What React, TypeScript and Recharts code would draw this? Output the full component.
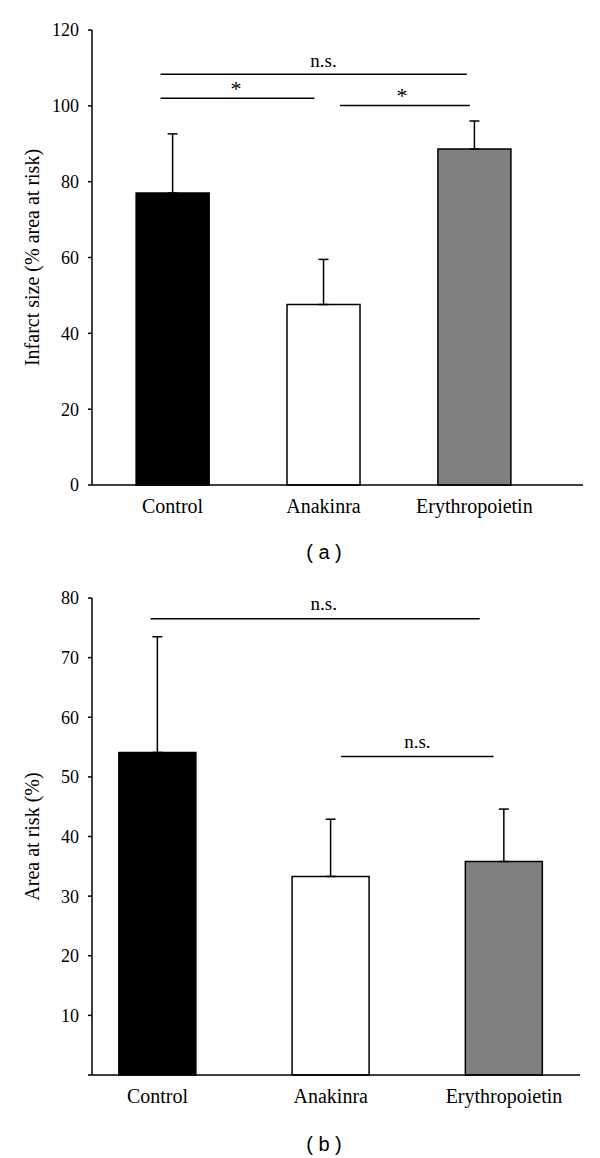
import {
  BarChart,
  Bar,
  Cell,
  XAxis,
  YAxis,
  ErrorBar,
  ReferenceLine,
  ReferenceDot,
} from "recharts";

const groups = ["Control", "Anakinra", "Erythropoietin"];
const fills = ["#000000", "#ffffff", "#808080"];

// panel (a): infarct size, % of area at risk
const infarctMean = [77.0, 47.6, 88.6];
const infarctErr = [15.6, 11.9, 7.4];
const infarctTicks = [0, 20, 40, 60, 80, 100, 120];

// panel (b): area at risk, %
const riskMean = [54.1, 33.3, 35.8];
const riskErr = [19.4, 9.6, 8.8];
const riskTicks = [0, 10, 20, 30, 40, 50, 60, 70, 80];

// significance bars, in data units (x = group index 1..3)
const bracketsA = [
  { x1: 0.92, x2: 2.95, y: 108.3 },
  { x1: 0.92, x2: 1.94, y: 102.0 },
  { x1: 2.11, x2: 2.97, y: 100.1 },
];
const marksA = [
  { x: 2.0, y: 112.1, text: "n.s." },
  { x: 1.42, y: 104.7, text: "*" },
  { x: 2.52, y: 102.9, text: "*" },
];
const bracketsB = [
  { x1: 0.96, x2: 2.86, y: 76.5 },
  { x1: 2.06, x2: 2.94, y: 53.4 },
];
const marksB = [
  { x: 1.96, y: 79.2, text: "n.s." },
  { x: 2.5, y: 55.9, text: "n.s." },
];

const serif = "'Liberation Serif', 'Times New Roman', serif";
const sans = "'Liberation Sans', Arial, sans-serif";

const build = (means: number[], errs: number[]) =>
  groups.map((g, i) => ({ x: i + 1, name: g, mean: means[i], err: [0, errs[i]] }));

type Bracket = { x1: number; x2: number; y: number };
type Mark = { x: number; y: number; text: string };

function Panel({
  means,
  errs,
  ticks,
  yLabel,
  brackets,
  marks,
  xDomain,
  barSize,
  top,
  height,
  marginTop,
  marginRight,
  hideZero,
}: {
  means: number[];
  errs: number[];
  ticks: number[];
  yLabel: string;
  brackets: Bracket[];
  marks: Mark[];
  xDomain: [number, number];
  barSize: number;
  top: number;
  height: number;
  marginTop: number;
  marginRight: number;
  hideZero?: boolean;
}) {
  const data = build(means, errs);
  return (
    <div style={{ position: "absolute", left: 0, top }}>
      <BarChart
        width={600}
        height={height}
        data={data}
        margin={{ top: marginTop, right: marginRight, left: 0, bottom: 0 }}
      >
        <XAxis
          type="number"
          dataKey="x"
          domain={xDomain}
          ticks={[1, 2, 3]}
          tickFormatter={(v) => groups[v - 1]}
          tickLine={false}
          tickSize={6}
          tickMargin={8}
          height={55}
          axisLine={{ stroke: "#000", strokeWidth: 1.5 }}
          tick={{ fill: "#000", fontSize: 20, fontFamily: serif }}
        />
        <YAxis
          type="number"
          domain={[ticks[0], ticks[ticks.length - 1]]}
          ticks={ticks}
          interval={0}
          width={92}
          tickSize={4}
          tickMargin={9}
          tickFormatter={(v) => (hideZero && v === 0 ? "" : String(v))}
          axisLine={{ stroke: "#000", strokeWidth: 1.5 }}
          tickLine={{ stroke: "#000", strokeWidth: 1.5 }}
          tick={{ fill: "#000", fontSize: 18, fontFamily: serif }}
          label={{
            value: yLabel,
            angle: -90,
            position: "center",
            dx: -14,
            fill: "#000",
            fontSize: 20,
            fontFamily: serif,
          }}
        />
        <Bar
          dataKey="mean"
          barSize={barSize}
          stroke="#000"
          strokeWidth={1.5}
          isAnimationActive={false}
        >
          {data.map((d, i) => (
            <Cell key={d.name} fill={fills[i]} />
          ))}
          <ErrorBar
            dataKey="err"
            direction="y"
            width={5}
            stroke="#000"
            strokeWidth={1.5}
            isAnimationActive={false}
          />
        </Bar>
        {brackets.map((b, i) => (
          <ReferenceLine
            key={"b" + i}
            segment={[
              { x: b.x1, y: b.y },
              { x: b.x2, y: b.y },
            ]}
            stroke="#000"
            strokeWidth={1.5}
            ifOverflow="visible"
          />
        ))}
        {marks.map((m, i) => (
          <ReferenceDot
            key={"m" + i}
            x={m.x}
            y={m.y}
            r={0}
            fill="none"
            stroke="none"
            ifOverflow="visible"
            label={{
              value: m.text,
              position: "center",
              fill: "#000",
              fontSize: m.text === "*" ? 22 : 19,
              fontFamily: serif,
            }}
          />
        ))}
      </BarChart>
    </div>
  );
}

function Caption({ text, y }: { text: string; y: number }) {
  return (
    <div
      style={{
        position: "absolute",
        left: 224,
        top: y - 12,
        width: 200,
        textAlign: "center",
        fontFamily: sans,
        fontSize: 20,
        lineHeight: "24px",
        color: "#000",
        whiteSpace: "pre",
      }}
    >
      {text}
    </div>
  );
}

export default function App() {
  return (
    <div
      style={{
        position: "absolute",
        left: 0,
        top: 0,
        width: 600,
        height: 1158,
        background: "#fff",
      }}
    >
      <Panel
        means={infarctMean}
        errs={infarctErr}
        ticks={infarctTicks}
        yLabel="Infarct size (% area at risk)"
        brackets={bracketsA}
        marks={marksA}
        xDomain={[0.466, 3.72]}
        barSize={73}
        top={0}
        height={540}
        marginTop={30}
        marginRight={17}
      />
      <Caption text="( a )" y={552} />
      <Panel
        means={riskMean}
        errs={riskErr}
        ticks={riskTicks}
        yLabel="Area at risk (%)"
        brackets={bracketsB}
        marks={marksB}
        xDomain={[0.622, 3.439]}
        barSize={77}
        top={560}
        height={570}
        marginTop={38}
        marginRight={20}
        hideZero
      />
      <Caption text="( b )" y={1144} />
    </div>
  );
}
